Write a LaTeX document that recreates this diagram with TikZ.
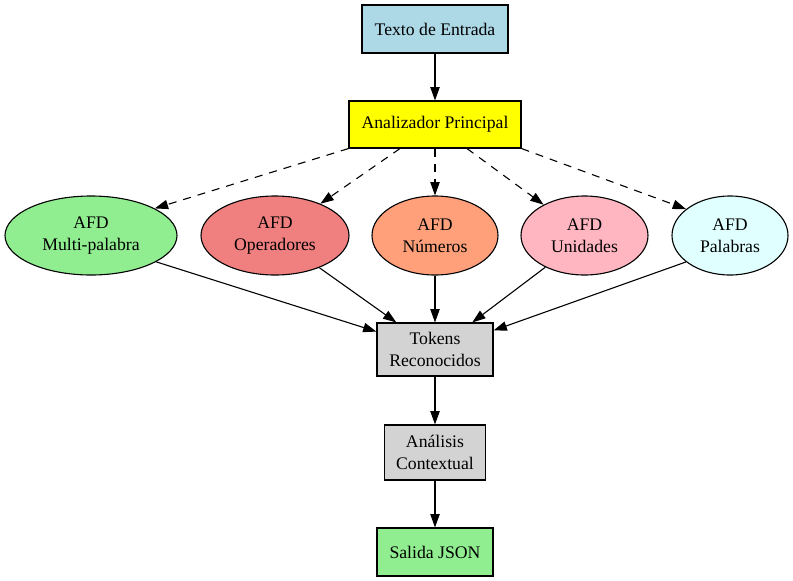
\documentclass[tikz,border=0pt]{standalone}
\usepackage{fontspec}
\setmainfont{Liberation Serif}
\usetikzlibrary{shapes.geometric,arrows.meta,calc}
\definecolor{cLightBlue}{HTML}{ADD8E6}
\definecolor{cYellow}{HTML}{FFFF00}
\definecolor{cLightGreen}{HTML}{90EE90}
\definecolor{cLightCoral}{HTML}{F08080}
\definecolor{cLightSalmon}{HTML}{FFA07A}
\definecolor{cLightPink}{HTML}{FFB6C1}
\definecolor{cLightCyan}{HTML}{E0FFFF}
\definecolor{cLightGrey}{HTML}{D3D3D3}
\begin{document}
\begin{tikzpicture}[x=1pt,y=-1pt,
  base/.style={font=\fontsize{17.7}{22.4}\selectfont, align=center, inner sep=0pt, draw=black, line width=1.1pt, text=black},
  boxnode/.style={base, rectangle, minimum width=#1},
  ellnode/.style={base, ellipse, minimum height=79pt, minimum width=#1},
  edge/.style={line width=1.1pt, -{Triangle[length=13.3pt,width=9.3pt]}},
  dashedge/.style={edge, dash pattern=on 8pt off 7pt}
]
\useasboundingbox (0,0) rectangle (793,581);

\node[boxnode=146pt, minimum height=48pt, fill=cLightBlue] (txt) at (435,29) {Texto de Entrada};
\node[boxnode=172pt, minimum height=47pt, fill=cYellow] (ap) at (435,124.5) {Analizador Principal};

\node[ellnode=172pt, fill=cLightGreen] (multi) at (91,235.5) {AFD\\Multi-palabra};
\node[ellnode=148pt, fill=cLightCoral] (op) at (275,235.5) {AFD\\Operadores};
\node[ellnode=126pt, fill=cLightSalmon] (nu) at (435,235.5) {AFD\\Números};
\node[ellnode=127pt, fill=cLightPink] (un) at (584.5,235.5) {AFD\\Unidades};
\node[ellnode=116pt, fill=cLightCyan] (pal) at (730,235.5) {AFD\\Palabras};

\node[boxnode=116pt, minimum height=53pt, fill=cLightGrey] (tok) at (435,349.5) {Tokens\\Reconocidos};
\node[boxnode=101pt, minimum height=55pt, fill=cLightGrey] (ctx) at (435,452.5) {Análisis\\Contextual};
\node[boxnode=116pt, minimum height=48pt, fill=cLightGreen] (out) at (435,552) {Salida JSON};

\draw[edge] (txt) -- (ap);

\draw[dashedge] (ap.south west) -- (multi.23);
\draw[dashedge] ([xshift=-35pt]ap.south) -- (op.35);
\draw[dashedge] (ap.south) -- (nu.north);
\draw[dashedge] ([xshift=32pt]ap.south) -- (un.143);
\draw[dashedge] (ap.south east) -- (pal.149);

\draw[edge] (multi.-22) -- (tok.163);
\draw[edge] (op.-36) -- (tok.145);
\draw[edge] (nu.south) -- (tok.north);
\draw[edge] (un.-141) -- (tok.36);
\draw[edge] (pal.-149) -- (tok.18);

\draw[edge] (tok) -- (ctx);
\draw[edge] (ctx) -- (out);
\end{tikzpicture}
\end{document}
